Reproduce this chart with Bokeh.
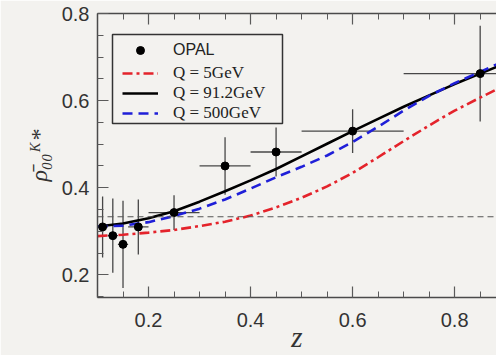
import numpy as np
from bokeh.plotting import figure
from bokeh.models import (Range1d, LinearAxis, Legend, LegendItem, FixedTicker,
                          ColumnDataSource, Span, BoxAnnotation, CustomLabelingPolicy)
from bokeh.embed import file_html
from bokeh.resources import INLINE

# ---------------- data ----------------
# OPAL measurement of rho_00 for K*0
opal_z = [0.11, 0.13, 0.15, 0.18, 0.25, 0.35, 0.45, 0.60, 0.85]
opal_rho = [0.31, 0.29, 0.27, 0.31, 0.343, 0.45, 0.482, 0.53, 0.662]
opal_zerr = [0.01, 0.01, 0.01, 0.02, 0.05, 0.05, 0.05, 0.10, 0.15]
opal_rhoerr = [0.07, 0.085, 0.10, 0.063, 0.04, 0.066, 0.056, 0.05, 0.11]

# model curves
curve_z = [0.10, 0.15, 0.20, 0.25, 0.30, 0.35, 0.40, 0.45, 0.50,
           0.55, 0.60, 0.65, 0.70, 0.75, 0.80, 0.85, 0.90]
rho_q5 = [0.289, 0.292, 0.297, 0.303, 0.312, 0.322, 0.336, 0.355, 0.377,
          0.403, 0.434, 0.470, 0.507, 0.543, 0.577, 0.607, 0.636]
rho_q912 = [0.311, 0.318, 0.330, 0.346, 0.368, 0.392, 0.417, 0.443, 0.472,
            0.501, 0.530, 0.558, 0.586, 0.612, 0.638, 0.662, 0.686]
rho_q500 = [0.311, 0.313, 0.321, 0.335, 0.352, 0.373, 0.398, 0.424, 0.448,
            0.474, 0.505, 0.540, 0.577, 0.611, 0.640, 0.666, 0.693]
unpolarized = 1.0 / 3.0

x_major = [0.2, 0.4, 0.6, 0.8]
y_major = [0.2, 0.4, 0.6, 0.8]

labels = ["OPAL", "Q = 5GeV", "Q = 91.2GeV", "Q = 500GeV"]

# ---------------- styles ----------------
bg = "#f3f2ef"
axis_col = "#4a4a4a"
tick_col = "#5a5a5a"
red = "#e4232b"
blue = "#1f1fd8"

zarr = np.array(opal_z)
rarr = np.array(opal_rho)
src = ColumnDataSource(dict(
    z=zarr, rho=rarr,
    z_lo=zarr - np.array(opal_zerr), z_hi=zarr + np.array(opal_zerr),
    r_lo=rarr - np.array(opal_rhoerr), r_hi=rarr + np.array(opal_rhoerr),
))

p = figure(width=496, height=355,
           x_range=Range1d(0.1, 0.882), y_range=Range1d(0.148, 0.8),
           output_backend="svg", toolbar_location=None,
           min_border_left=97, min_border_right=0, min_border_top=13,
           min_border_bottom=55,
           background_fill_color=bg, border_fill_color=bg,
           outline_line_color=None)
p.xgrid.visible = False
p.ygrid.visible = False

xt = FixedTicker(ticks=x_major, minor_ticks=list(np.round(np.arange(0.1, 1.0001, 0.05), 3)))
yt = FixedTicker(ticks=y_major, minor_ticks=list(np.round(np.arange(0.15, 0.8001, 0.05), 3)))


def style_axis(ax, ticker):
    ax.ticker = ticker
    ax.axis_line_color = axis_col
    ax.axis_line_width = 1.5
    ax.major_tick_line_color = tick_col
    ax.minor_tick_line_color = tick_col
    ax.major_tick_line_width = 1.2
    ax.minor_tick_line_width = 1.0
    ax.major_tick_in = 11
    ax.major_tick_out = 0
    ax.minor_tick_in = 6
    ax.minor_tick_out = 0
    ax.major_label_text_font = "Liberation Sans"
    ax.major_label_text_font_size = "20px"
    ax.major_label_text_color = "#333333"


style_axis(p.xaxis[0], xt)
style_axis(p.yaxis[0], yt)
p.xaxis[0].major_label_standoff = 15
p.yaxis[0].major_label_standoff = 8

p.xaxis[0].axis_label = "z"
p.xaxis[0].axis_label_text_font = "Liberation Serif"
p.xaxis[0].axis_label_text_font_style = "italic"
p.xaxis[0].axis_label_text_font_size = "29px"
p.xaxis[0].axis_label_text_color = "#333333"
p.xaxis[0].axis_label_standoff = -9

p.yaxis[0].axis_label = "ρ̄₀₀ᴷ*"
p.yaxis[0].axis_label_text_font = "Liberation Serif"
p.yaxis[0].axis_label_text_font_style = "italic"
p.yaxis[0].axis_label_text_font_size = "24px"
p.yaxis[0].axis_label_text_color = "#333333"
p.yaxis[0].axis_label_standoff = 7

top = LinearAxis()
style_axis(top, xt)
top.major_label_text_font_size = "0px"
top.major_label_standoff = 0
top.major_label_policy = CustomLabelingPolicy(
    code="for (const i of Array.from(indices)) { indices.unset(i) }; return indices")
p.add_layout(top, "above")

# reference line at 1/3
p.add_layout(Span(location=unpolarized, dimension="width", line_color="#555555",
                  line_width=1.2, line_dash="6 4"))

# error bars
p.segment(x0="z_lo", x1="z_hi", y0="rho", y1="rho", source=src,
          line_color="#474747", line_width=1.3)
p.segment(x0="z", x1="z", y0="r_lo", y1="r_hi", source=src,
          line_color="#474747", line_width=1.3)

r5 = p.line(curve_z, rho_q5, line_color=red, line_width=2.6, line_dash="10 4 3 4")
r91 = p.line(curve_z, rho_q912, line_color="black", line_width=2.6)
r500 = p.line(curve_z, rho_q500, line_color=blue, line_width=2.6, line_dash="10 6")

pts = p.scatter("z", "rho", source=src, size=8, fill_color="black", line_color="black")

# legend frame (canvas pixels)
p.add_layout(BoxAnnotation(left=112, right=282, top=34, bottom=123,
                           left_units="canvas", right_units="canvas",
                           top_units="canvas", bottom_units="canvas",
                           fill_color=bg, fill_alpha=1.0,
                           line_color="#333333", line_width=1.5, line_alpha=1.0))

legB = Legend(items=[LegendItem(label=labels[0], renderers=[pts])],
              location=(25, 237))
legA = Legend(items=[LegendItem(label=labels[1], renderers=[r5]),
                     LegendItem(label=labels[2], renderers=[r91]),
                     LegendItem(label=labels[3], renderers=[r500])],
              location=(25, 174))
for lg in (legA, legB):
    lg.padding = 0
    lg.spacing = 0
    lg.margin = 0
    lg.glyph_width = 36
    lg.glyph_height = 20
    lg.label_height = 20
    lg.label_standoff = 15
    lg.label_text_font_size = "16px"
    lg.label_text_color = "#222222"
    lg.label_text_baseline = "middle"
    lg.border_line_color = None
    lg.background_fill_alpha = 0.0
legA.label_text_font = "Liberation Serif"
legA.label_text_font_size = "17px"
legB.label_text_font = "Liberation Sans"
p.add_layout(legA)
p.add_layout(legB)

open("out.html", "w").write(file_html(p, INLINE))
